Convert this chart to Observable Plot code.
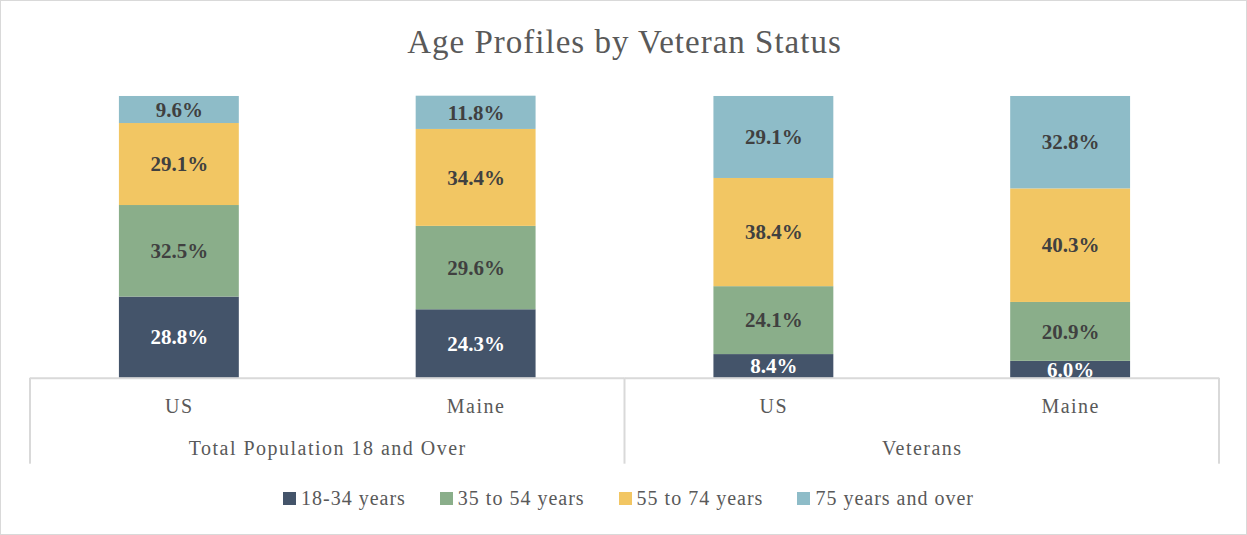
<!DOCTYPE html>
<html>
<head>
<meta charset="utf-8">
<script src="https://cdn.jsdelivr.net/npm/d3@7"></script>
<script src="https://cdn.jsdelivr.net/npm/@observablehq/plot@0.6"></script>
<style>
  html, body { margin: 0; padding: 0; background: #fff; }
  #wrap { position: relative; width: 1247px; height: 535px; box-sizing: border-box; border: 1px solid #d9d9d9; overflow: hidden; font-family: "Liberation Serif", serif; }
  #title { position: absolute; left: 0; top: 19px; width: 1247px; text-align: center; font-size: 33px; line-height: 44px; color: #595959; letter-spacing: 1px; }
  #chart { position: absolute; left: -1px; top: 69px; }
  #legend { position: absolute; left: 4px; top: 482px; width: 1247px; height: 30px; display: flex; justify-content: center; align-items: center; gap: 34px; font-size: 20px; color: #595959; letter-spacing: 1px; }
  .item { display: flex; align-items: center; gap: 5px; }
  .sw { width: 13px; height: 13px; display: inline-block; }
</style>
</head>
<body>
<div id="wrap">
  <div id="title">Age Profiles by Veteran Status</div>
  <div id="chart"></div>
  <div id="legend"></div>
</div>
<script>
const groups = ["Total Population 18 and Over", "Veterans"];
const regions = ["US", "Maine"];
const ages = ["18-34 years", "35 to 54 years", "55 to 74 years", "75 years and over"];
const colors = ["#44546A", "#8AAE8A", "#F2C663", "#8EBCC8"];
const totalUS = [28.8, 32.5, 29.1, 9.6];
const totalMaine = [24.3, 29.6, 34.4, 11.8];
const veteransUS = [8.4, 24.1, 38.4, 29.1];
const veteransMaine = [6.0, 20.9, 40.3, 32.8];

const series = [
  [groups[0], regions[0], totalUS],
  [groups[0], regions[1], totalMaine],
  [groups[1], regions[0], veteransUS],
  [groups[1], regions[1], veteransMaine]
];
const data = [];
for (const [group, region, vals] of series) {
  vals.forEach((v, i) => data.push({group, region, age: ages[i], value: v}));
}
const fmt = v => v.toFixed(1) + "%";

const chart = Plot.plot({
  width: 1247,
  height: 400,
  marginTop: 26,
  marginBottom: 92,
  marginLeft: 30,
  marginRight: 27,
  style: {fontFamily: "Liberation Serif, serif", fontSize: "20px", color: "#595959", background: "transparent", letterSpacing: "1.5px"},
  fx: {domain: groups, padding: 0, axis: "bottom", tickSize: 0, tickPadding: 63, label: null},
  x: {domain: regions, paddingInner: 0.597, paddingOuter: 0.2985, tickSize: 0, tickPadding: 21, label: null},
  y: {domain: [0, 100], axis: null},
  color: {domain: ages, range: colors},
  marks: [
    Plot.barY(data, {fx: "group", x: "region", y: "value", fill: "age"}),
    Plot.text(data, Plot.stackY({fx: "group", x: "region", y: "value", z: "age",
      text: d => d.age === ages[0] ? fmt(d.value) : "",
      fill: "white", fontWeight: "bold", fontSize: 21})),
    Plot.text(data, Plot.stackY({fx: "group", x: "region", y: "value", z: "age",
      text: d => d.age === ages[0] ? "" : fmt(d.value),
      fill: "#404040", fontWeight: "bold", fontSize: 21})),
    Plot.ruleY([0], {stroke: "#d9d9d9", strokeWidth: 2})
  ]
});
document.getElementById("chart").appendChild(chart);
d3.select(chart).selectAll('g[aria-label="text"]').style("letter-spacing", "0px");

// nested category-axis box: vertical separators at facet edges
const fxs = chart.scale("fx");
const ys = chart.scale("y");
const y0 = ys.apply(0);
const edges = new Set();
groups.forEach(g => { const l = fxs.apply(g); edges.add(l); edges.add(l + fxs.bandwidth); });
const gsel = d3.select(chart).append("g").attr("stroke", "#d9d9d9").attr("stroke-width", 2);
for (const e of edges) {
  gsel.append("line").attr("x1", e).attr("x2", e).attr("y1", y0).attr("y2", y0 + 86);
}

// legend
const leg = document.getElementById("legend");
ages.forEach((a, i) => {
  const it = document.createElement("span");
  it.className = "item";
  const sw = document.createElement("span");
  sw.className = "sw";
  sw.style.background = colors[i];
  const t = document.createElement("span");
  t.textContent = a;
  it.appendChild(sw); it.appendChild(t);
  leg.appendChild(it);
});
</script>
</body>
</html>
